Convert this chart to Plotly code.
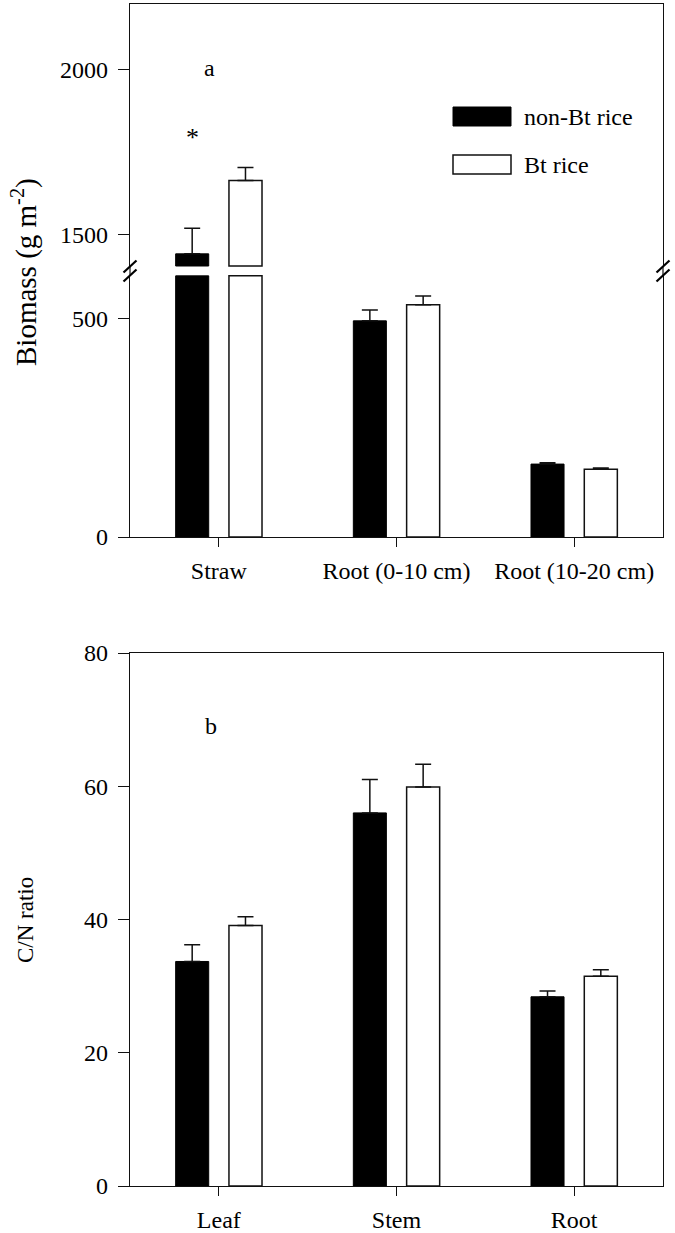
import plotly.graph_objects as go

# ---------------- data ----------------
BIOMASS_CATS = ["Straw", "Root (0-10 cm)", "Root (10-20 cm)"]
BIOMASS_NONBT = [1440, 495, 167]
BIOMASS_NONBT_ERR = [78, 25, 3]
BIOMASS_BT = [1663, 532, 155]
BIOMASS_BT_ERR = [40, 20, 3]

CN_CATS = ["Leaf", "Stem", "Root"]
CN_NONBT = [33.7, 56.0, 28.4]
CN_NONBT_ERR = [2.5, 5.0, 0.85]
CN_BT = [39.1, 59.9, 31.5]
CN_BT_ERR = [1.3, 3.4, 0.95]

SERIES = ["non-Bt rice", "Bt rice"]

# broken axis ranges (panel a)
LOW_RANGE = [0, 600]
HIGH_RANGE = [1400, 2200]
LOW_CUT = LOW_RANGE[1] - 2
HIGH_CUT = HIGH_RANGE[0] + 3

# ---------------- layout geometry ----------------
W, H = 675, 1233
ML, MR, MT, MB = 130, 12, 4, 47
PW = W - ML - MR
PH = H - MT - MB


def py(ypx):
    """pixel y -> paper y"""
    return (H - MB - ypx) / PH


FONT = "'Liberation Serif', 'Times New Roman', Times, serif"
FS = 24
LC = "#111111"

A_HIGH = [py(267), py(4)]
A_LOW = [py(537), py(275)]
B_DOM = [py(1186), py(653)]

fig = go.Figure()

NB_STYLE = dict(marker=dict(color="black", line=dict(color="black", width=1)))
BT_STYLE = dict(marker=dict(color="white", line=dict(color=LC, width=1.5)))


def err(arr):
    return dict(type="data", array=arr, arrayminus=[0] * len(arr), symmetric=False,
                color=LC, thickness=1.5, width=8)


# panel a, lower segment
for vals, errs, style, og, name in [
    (BIOMASS_NONBT, BIOMASS_NONBT_ERR, NB_STYLE, "nb", SERIES[0]),
    (BIOMASS_BT, BIOMASS_BT_ERR, BT_STYLE, "bt", SERIES[1]),
]:
    full = [(c, v, e) for c, v, e in zip(BIOMASS_CATS, vals, errs) if v <= LOW_RANGE[1]]
    tall = [(c, v, e) for c, v, e in zip(BIOMASS_CATS, vals, errs) if v > LOW_RANGE[1]]
    fig.add_trace(go.Bar(x=[t[0] for t in full], y=[t[1] for t in full],
                         error_y=err([t[2] for t in full]), offsetgroup=og,
                         xaxis="x", yaxis="y", name=name, showlegend=False, **style))
    fig.add_trace(go.Bar(x=[t[0] for t in tall], y=[LOW_CUT for _ in tall],
                         offsetgroup=og, xaxis="x", yaxis="y", name=name,
                         showlegend=False, **style))
    # upper segment
    fig.add_trace(go.Bar(x=[t[0] for t in tall], y=[t[1] - HIGH_CUT for t in tall],
                         base=[HIGH_CUT for _ in tall],
                         error_y=err([t[2] for t in tall]), offsetgroup=og,
                         xaxis="x2", yaxis="y2", name=name, showlegend=False, **style))

# panel b
for vals, errs, style, og, name in [
    (CN_NONBT, CN_NONBT_ERR, NB_STYLE, "nb", SERIES[0]),
    (CN_BT, CN_BT_ERR, BT_STYLE, "bt", SERIES[1]),
]:
    fig.add_trace(go.Bar(x=CN_CATS, y=vals, error_y=err(errs), offsetgroup=og,
                         xaxis="x3", yaxis="y3", name=name, showlegend=False, **style))

axis_common = dict(showline=True, linecolor=LC, linewidth=1.2, showgrid=False,
                   zeroline=False, tickcolor=LC, tickwidth=1.2, automargin=False,
                   tickfont=dict(family=FONT, size=FS, color="black"))

fig.update_layout(
    width=W, height=H,
    margin=dict(l=ML, r=MR, t=MT, b=MB, autoexpand=False),
    paper_bgcolor="white", plot_bgcolor="white",
    barmode="group", bargap=0.4, bargroupgap=0.38,
    showlegend=False,
    font=dict(family=FONT, size=FS, color="black"),
    xaxis=dict(domain=[0, 1], anchor="y", type="category",
               categoryorder="array", categoryarray=BIOMASS_CATS,
               range=[-0.5, 2.5], ticks="outside", ticklen=9,
               ticklabelstandoff=3, **axis_common),
    xaxis2=dict(domain=[0, 1], anchor="y2", matches="x", side="top",
                ticks="", showticklabels=False, **axis_common),
    yaxis=dict(domain=A_LOW, anchor="x", range=LOW_RANGE, tickvals=[0, 500],
               ticks="outside", ticklen=11, mirror=True, ticklabelstandoff=5,
               **axis_common),
    yaxis2=dict(domain=A_HIGH, anchor="x2", range=HIGH_RANGE, tickvals=[1500, 2000],
                ticks="outside", ticklen=11, mirror=True, ticklabelstandoff=5,
                **axis_common),
    xaxis3=dict(domain=[0, 1], anchor="y3", type="category",
                categoryorder="array", categoryarray=CN_CATS,
                range=[-0.5, 2.5], ticks="outside", ticklen=9, mirror=True,
                ticklabelstandoff=3, **axis_common),
    yaxis3=dict(domain=B_DOM, anchor="x3", range=[0, 80], dtick=20,
                ticks="outside", ticklen=11, mirror=True, ticklabelstandoff=5,
                **axis_common),
)

# ---------------- decorations ----------------
shapes = []
gap_lo, gap_hi = A_LOW[1], A_HIGH[0]
for xd in (0, 1):
    # keep the axis line continuous across the break
    shapes.append(dict(type="line", xref="x domain", yref="paper", x0=xd, x1=xd,
                       y0=gap_lo, y1=gap_hi, line=dict(color=LC, width=1.2)))
    # break marks "//"
    for yc in (py(266.5), py(275.5)):
        shapes.append(dict(type="line", xref="x domain", yref="paper",
                           x0=xd - 6.5 / PW, x1=xd + 6.5 / PW,
                           y0=yc - 6 / PH, y1=yc + 6 / PH,
                           line=dict(color="black", width=2.2)))


# legend swatches (panel a upper)
def ydom2(ypx):
    return (267 - ypx) / 263


def xdom(xpx):
    return (xpx - ML) / PW


shapes.append(dict(type="rect", xref="x domain", yref="y2 domain",
                   x0=xdom(453), x1=xdom(511), y0=ydom2(126), y1=ydom2(107),
                   fillcolor="black", line=dict(color="black", width=1)))
shapes.append(dict(type="rect", xref="x domain", yref="y2 domain",
                   x0=xdom(453), x1=xdom(511), y0=ydom2(174), y1=ydom2(155),
                   fillcolor="white", line=dict(color=LC, width=1.5)))

annotations = [
    dict(text=SERIES[0], xref="x domain", yref="y2 domain", x=xdom(522), y=ydom2(117),
         xanchor="left", yanchor="middle", showarrow=False, font=dict(size=FS)),
    dict(text=SERIES[1], xref="x domain", yref="y2 domain", x=xdom(522), y=ydom2(165),
         xanchor="left", yanchor="middle", showarrow=False, font=dict(size=FS)),
    dict(text="a", xref="x domain", yref="y2 domain", x=xdom(209), y=ydom2(68),
         xanchor="center", yanchor="middle", showarrow=False, font=dict(size=FS)),
    dict(text="*", xref="x domain", yref="y2 domain", x=xdom(192), y=ydom2(137),
         xanchor="center", yanchor="middle", showarrow=False, font=dict(size=FS + 2)),
    dict(text="b", xref="x domain", yref="y3 domain", x=xdom(211),
         y=(1186 - 726) / 533, xanchor="center", yanchor="middle", showarrow=False,
         font=dict(size=FS)),
    dict(text="Biomass (g m<sup>-2</sup>)", xref="paper", yref="paper",
         x=(24 - ML) / PW, y=py(272), textangle=-90, xanchor="center",
         yanchor="middle", showarrow=False, font=dict(size=29)),
    dict(text="C/N ratio", xref="paper", yref="paper",
         x=(25 - ML) / PW, y=py(920), textangle=-90, xanchor="center",
         yanchor="middle", showarrow=False, font=dict(size=23)),
]

fig.update_layout(shapes=shapes, annotations=annotations)

fig.write_html(
    "out.html",
    config={"displayModeBar": False},
    post_script="document.body.style.margin='0';document.body.style.padding='0';",
)
